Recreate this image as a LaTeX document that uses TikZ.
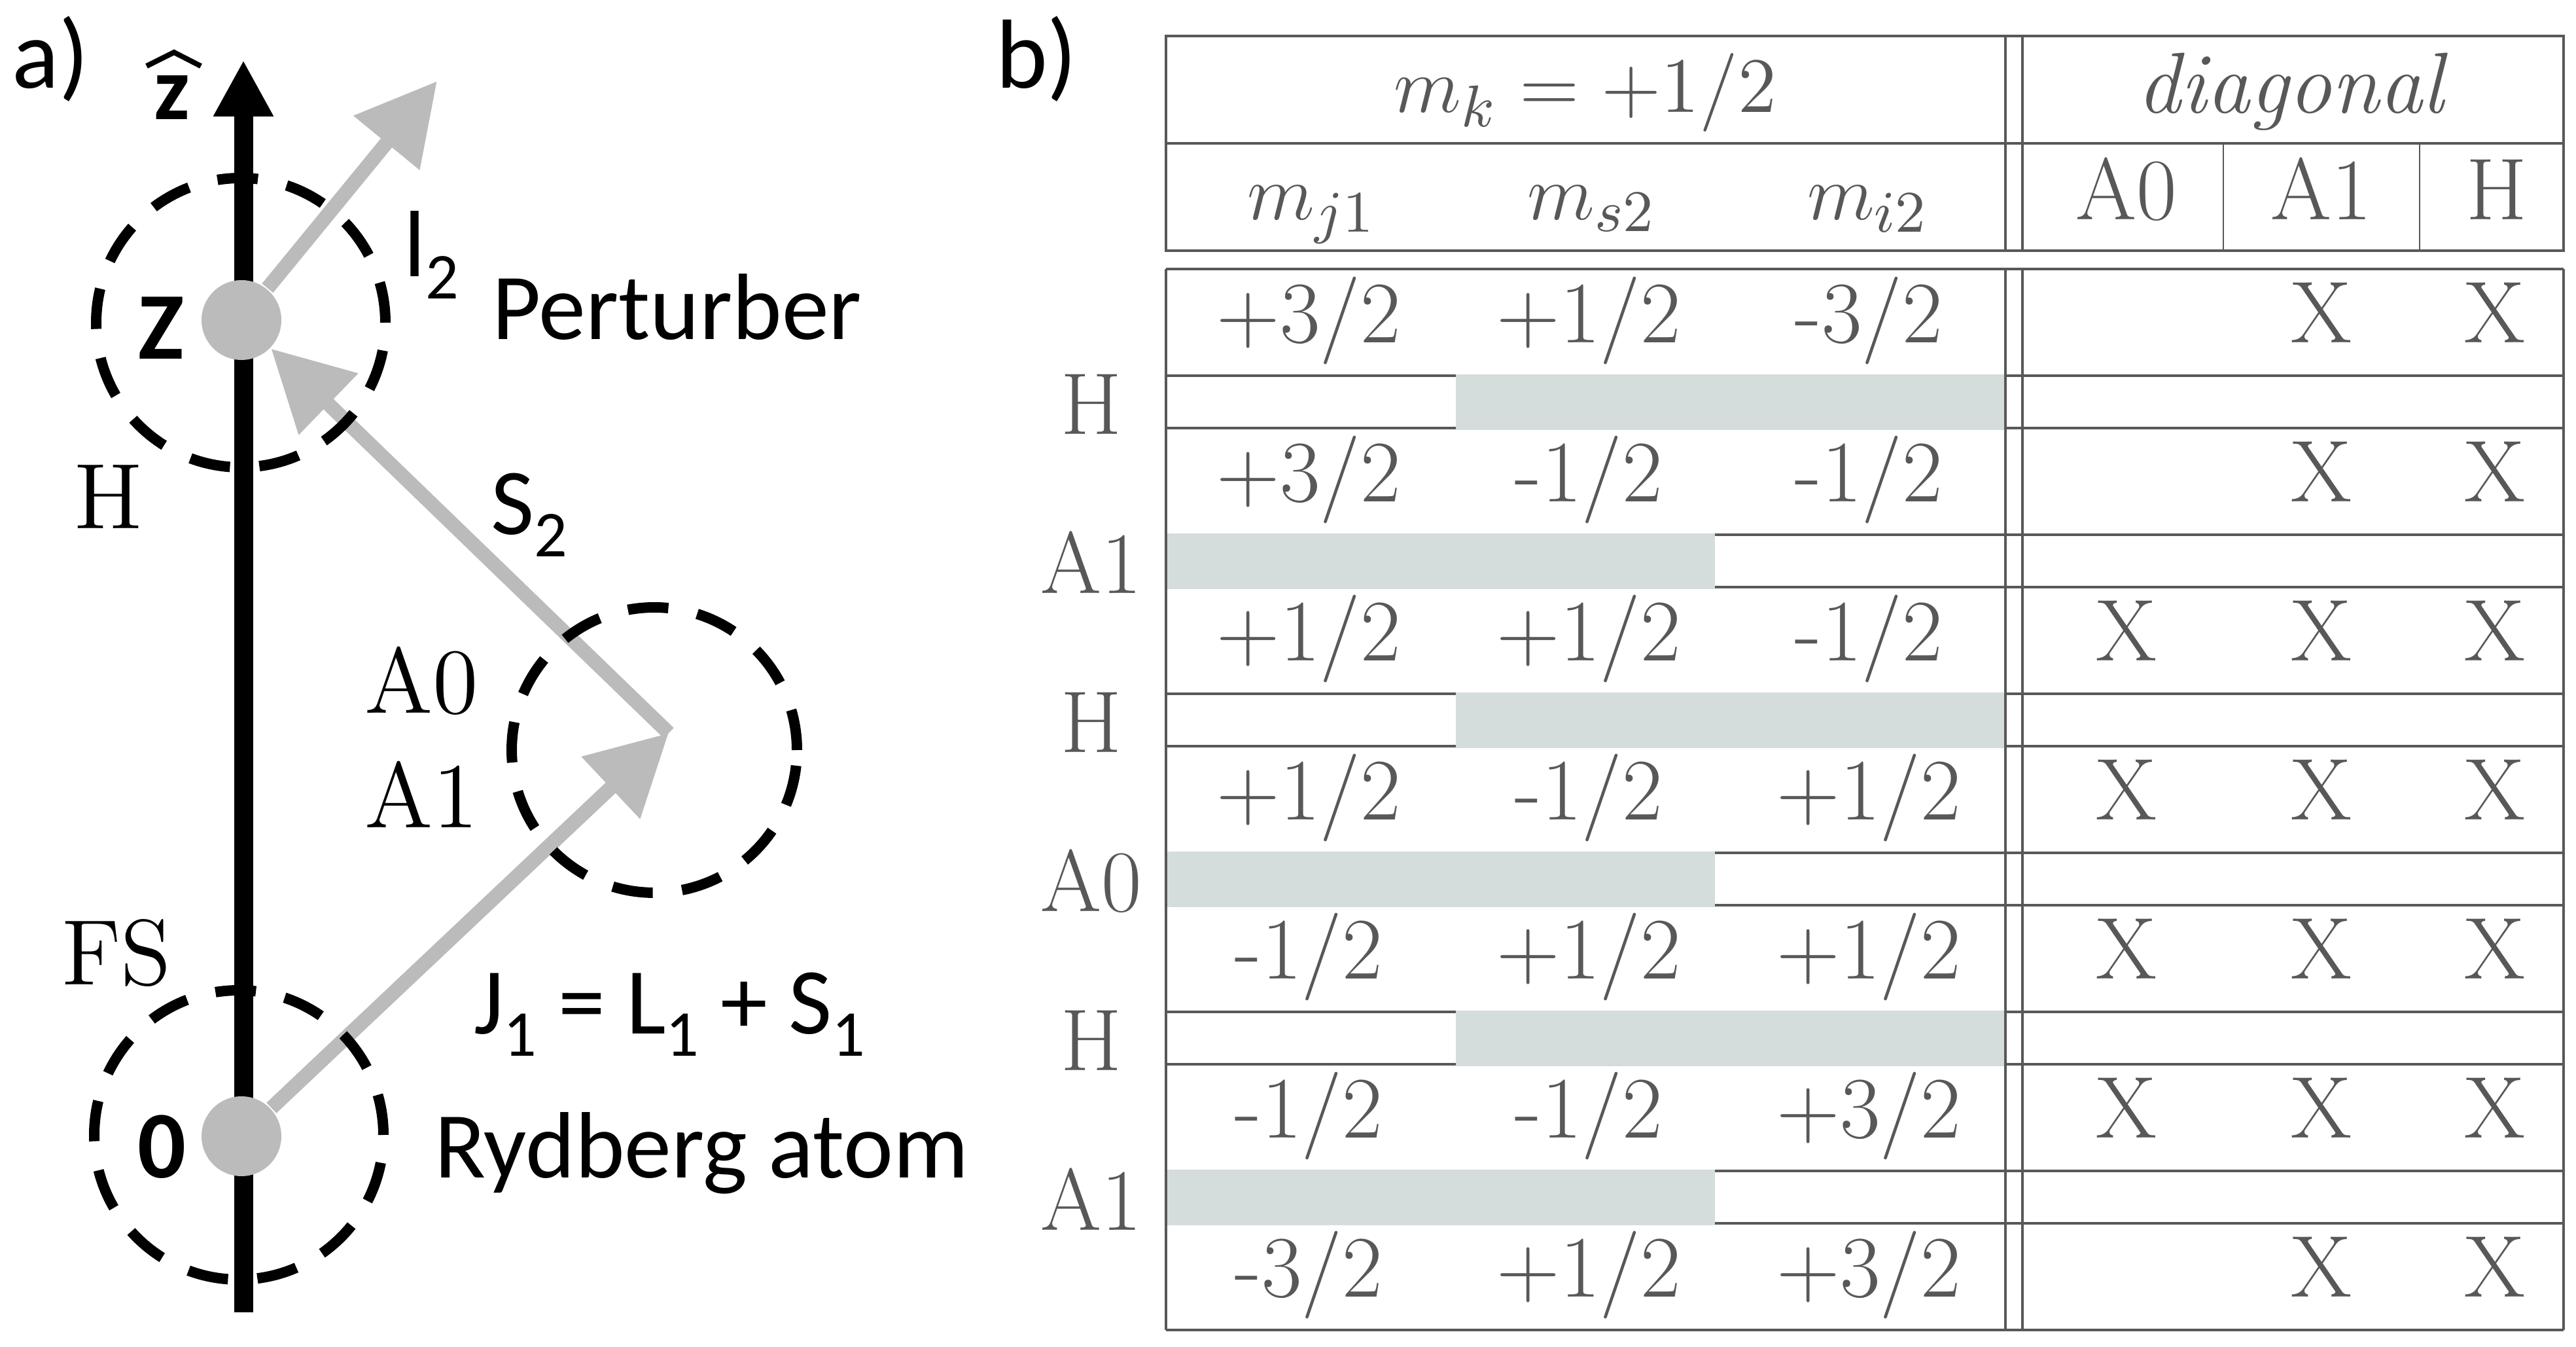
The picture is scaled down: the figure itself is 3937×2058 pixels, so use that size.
\documentclass[tikz,border=0pt]{standalone}
\usepackage{fontspec}
\newfontfamily\carl{Carlito}
\newfontfamily\lmsev{lmroman17-regular.otf}
\usetikzlibrary{arrows.meta}
\definecolor{agray}{RGB}{187,187,187}
\definecolor{tgray}{RGB}{88,88,88}
\definecolor{bandc}{RGB}{213,221,220}
\newcommand\csub[1]{{\fontsize{10pt}{10pt}\selectfont\raisebox{-3.4pt}{#1}}}
\tikzset{
  cmlab/.style={font=\fontsize{14.2pt}{16pt}\selectfont, anchor=base west, inner sep=0pt},
  sanslab/.style={font=\carl\fontsize{14.4pt}{16pt}\selectfont, anchor=base west, inner sep=0pt},
  sansbold/.style={font=\carl\bfseries\fontsize{14.6pt}{16pt}\selectfont, anchor=base, inner sep=0pt},
  tab/.style={font=\lmsev\fontsize{13.4pt}{15pt}\selectfont, text=tgray, anchor=base, inner sep=0pt},
  tabm/.style={font=\fontsize{13.2pt}{15pt}\selectfont, text=tgray, anchor=base, inner sep=0pt},
  grayarrow/.style={draw=agray, line width=2.2pt, -{Triangle[length=12.2pt,width=12.5pt]}},
  dashcirc/.style={draw=black, line width=1.6pt, dash pattern=on 6.2pt off 4.5pt, circle, minimum size=44.2pt, inner sep=0pt},
  dot/.style={circle, fill=agray, minimum size=12.2pt, inner sep=0pt},
  tline/.style={draw=tgray, line width=0.32pt},
  thinline/.style={draw=tgray, line width=0.2pt},
  bandfill/.style={fill=bandc, draw=none},
}
\begin{document}
\begin{tikzpicture}[x=0.1pt, y=-0.1pt]
\useasboundingbox (0,0) rectangle (3937,2058);

% ---------------- part a ----------------
\coordinate (axB) at (372,2005);
\coordinate (axT) at (372,92);
\draw[line width=2.9pt, -{Triangle[length=8.6pt,width=8.6pt]}] (axB) -- (axT);

\node[dot] (dotZ) at (369,489) {};
\node[dot] (dot0) at (369,1736) {};

\coordinate (V) at (1022,1120);
\coordinate (Ltip) at (668,124);
\draw[grayarrow] (dot0) -- (V);
\draw[grayarrow] (V) -- (dotZ);
\draw[grayarrow] (dotZ) -- (Ltip);

\node[dashcirc] (cZ) at (368,493) {};
\node[dashcirc] (c0) at (365,1734) {};
\node[dashcirc, minimum size=43.6pt] (cA) at (1000,1146) {};

\node[font=\carl\fontsize{15pt}{17pt}\selectfont, anchor=base west, inner sep=0pt] (la) at (17,135) {a)};
\node[font=\carl\bfseries\fontsize{13.8pt}{16pt}\selectfont, anchor=base, inner sep=0pt] (lz) at (263,183) {z};
\draw[line width=0.8pt] (224,101) -- (266,80) -- (307,101);
\node[sansbold] (lZ) at (246,549) {Z};
\node[sansbold] (l0) at (247,1800) {0};

\node[cmlab] (lH) at (111,808) {H};
\node[cmlab] (lFS) at (92,1505) {FS};
\node[cmlab] (lA0) at (555,1090) {A0};
\node[cmlab] (lA1) at (555,1265) {A1};

\node[sanslab] (ll2) at (615,423) {l\csub{2}};
\node[sanslab] (lPert) at (750,519) {Perturber};
\node[sanslab] (lS2) at (748,817) {S\csub{2}};
\node[sanslab] (lJ) at (722,1580) {J\csub{1} = L\csub{1} + S\csub{1}};
\node[sanslab] (lRyd) at (662,1800) {Rydberg atom};

% ---------------- part b ----------------
\node[font=\carl\fontsize{15pt}{17pt}\selectfont, anchor=base west, inner sep=0pt] (lb) at (1520,135) {b)};

% header box
\draw[tline] (1782,55) rectangle (3918,383);
\draw[tline] (1782,219) -- (3918,219);
\draw[tline] (3065,55) -- (3065,383);
\draw[tline] (3091,55) -- (3091,383);
\draw[thinline] (3398,219) -- (3398,383);
\draw[thinline] (3698,219) -- (3698,383);

% data box horizontal lines
\foreach \yy in {574,654,817,897,1060,1140,1303,1383,1546,1626,1789,1869}
  \draw[tline] (1782,\yy) -- (3918,\yy);
\draw[tline] (1782,411) -- (3918,411);
\draw[tline] (1782,2032) -- (3918,2032);

% shaded bands
\fill[bandfill] (2225,572) rectangle (3065,657);
\fill[bandfill] (1782,815) rectangle (2621,900);
\fill[bandfill] (2225,1058) rectangle (3065,1143);
\fill[bandfill] (1782,1301) rectangle (2621,1386);
\fill[bandfill] (2225,1544) rectangle (3065,1629);
\fill[bandfill] (1782,1787) rectangle (2621,1872);

% data box vertical lines
\draw[tline] (1782,411) -- (1782,2032);
\draw[tline] (3065,411) -- (3065,2032);
\draw[tline] (3091,411) -- (3091,2032);
\draw[tline] (3918,411) -- (3918,2032);

% header texts
\node[tabm] (hmk) at (2423,172) {$m_k = +1/2$};
\node[tabm] (hdiag) at (3504,173) {\textit{diagonal}};
\node[tabm] (hmj) at (2005,336) {$m_{j1}$};
\node[tabm] (hms) at (2433,336) {$m_{s2}$};
\node[tabm] (hmi) at (2855,336) {$m_{i2}$};
\node[tab] (hA0) at (3250,336) {A0};
\node[tab] (hA1) at (3548,336) {A1};
\node[tab] (hH) at (3816,336) {H};

% side labels
\node[tab] (sH1) at (1668,664) {H};
\node[tab] (sA1a) at (1668,907) {A1};
\node[tab] (sH2) at (1668,1150) {H};
\node[tab] (sA0) at (1668,1393) {A0};
\node[tab] (sH3) at (1668,1636) {H};
\node[tab] (sA1b) at (1668,1879) {A1};

% rows
\newcommand\vals[4]{%
  \node[tab] (r#1a) at (2000,#2) {#3};
  \node[tab] (r#1b) at (2428,#2) {#4};
}
\newcommand\third[3]{\node[tab] (r#1c) at (2856,#2) {#3};}
\newcommand\xx[3]{\node[tab] (r#1#3) at (#2) {X};}

\vals{1}{524}{+3/2}{+1/2}\third{1}{524}{-3/2}
\vals{2}{767}{+3/2}{-1/2}\third{2}{767}{-1/2}
\vals{3}{1010}{+1/2}{+1/2}\third{3}{1010}{-1/2}
\vals{4}{1253}{+1/2}{-1/2}\third{4}{1253}{+1/2}
\vals{5}{1496}{-1/2}{+1/2}\third{5}{1496}{+1/2}
\vals{6}{1739}{-1/2}{-1/2}\third{6}{1739}{+3/2}
\vals{7}{1982}{-3/2}{+1/2}\third{7}{1982}{+3/2}

\xx{1}{3548,524}{e}\xx{1}{3813,524}{f}
\xx{2}{3548,767}{e}\xx{2}{3813,767}{f}
\xx{3}{3250,1010}{d}\xx{3}{3548,1010}{e}\xx{3}{3813,1010}{f}
\xx{4}{3250,1253}{d}\xx{4}{3548,1253}{e}\xx{4}{3813,1253}{f}
\xx{5}{3250,1496}{d}\xx{5}{3548,1496}{e}\xx{5}{3813,1496}{f}
\xx{6}{3250,1739}{d}\xx{6}{3548,1739}{e}\xx{6}{3813,1739}{f}
\xx{7}{3548,1982}{e}\xx{7}{3813,1982}{f}
\end{tikzpicture}
\end{document}
